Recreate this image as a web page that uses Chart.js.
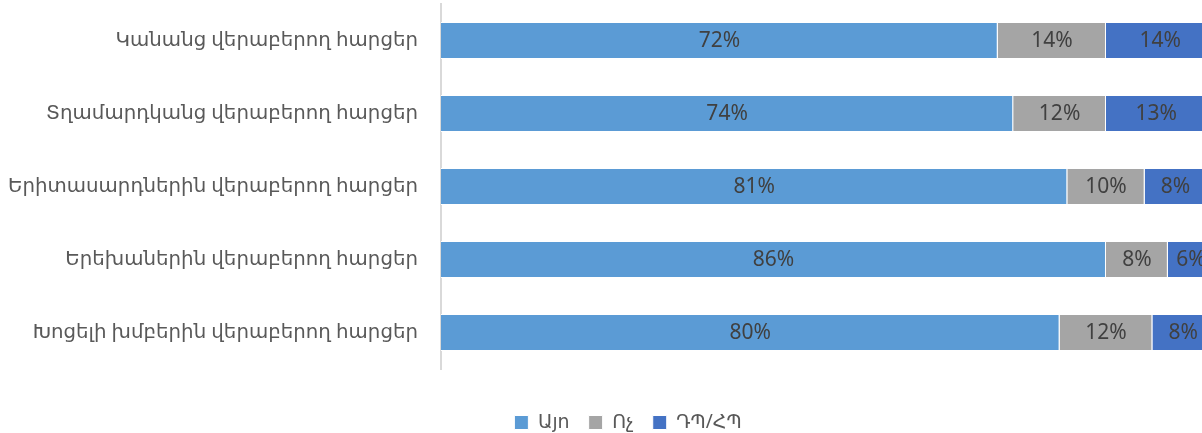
<!DOCTYPE html>
<html>
<head>
<meta charset="utf-8">
<script src="https://cdn.jsdelivr.net/npm/chart.js@4/dist/chart.umd.min.js"></script>
<style>
  html, body { margin: 0; padding: 0; background: #fff; overflow: hidden; }
  #wrap { width: 1202px; height: 433px; overflow: hidden; }
</style>
</head>
<body>
<div id="wrap"><canvas id="chart" width="1256" height="433"></canvas></div>
<script>
// Հարցերի խմբեր
const categories = [
    'Կանանց վերաբերող հարցեր',
    'Տղամարդկանց վերաբերող հարցեր',
    'Երիտասարդներին վերաբերող հարցեր',
    'Երեխաներին վերաբերող հարցեր',
    'Խոցելի խմբերին վերաբերող հարցեր'
];
const seriesNames = ['Այո', 'Ոչ', 'ԴՊ/ՀՊ'];
const yesValues = [72, 74, 81, 86, 80];
const noValues = [14, 12, 10, 8, 12];
const dkValues = [14, 13, 8, 6, 8];

const colors = ['#5B9BD5', '#A5A5A5', '#4472C4'];
const fontFamily = '"Noto Sans", "DejaVu Sans", sans-serif';

// տոկոսները հատվածների մեջտեղում
const barLabels = {
    id: 'barLabels',
    afterDatasetsDraw(chart) {
        const ctx = chart.ctx;
        ctx.save();
        ctx.font = '21px ' + fontFamily;
        ctx.fillStyle = '#404040';
        ctx.textAlign = 'center';
        ctx.textBaseline = 'middle';
        chart.data.datasets.forEach((ds, i) => {
            chart.getDatasetMeta(i).data.forEach((bar, j) => {
                ctx.fillText(ds.data[j] + '%', (bar.x + bar.base) / 2, bar.y + 1);
            });
        });
        ctx.restore();
    }
};

new Chart(document.getElementById('chart'), {
    type: 'bar',
    data: {
        labels: categories,
        datasets: [
            { label: seriesNames[0], data: yesValues, backgroundColor: colors[0] },
            { label: seriesNames[1], data: noValues, backgroundColor: colors[1] },
            { label: seriesNames[2], data: dkValues, backgroundColor: colors[2] }
        ].map(d => Object.assign(d, {
            borderColor: '#ffffff',
            borderWidth: 1,
            categoryPercentage: 1,
            barPercentage: 0.51
        }))
    },
    options: {
        indexAxis: 'y',
        responsive: false,
        animation: false,
        layout: { padding: { top: 4, right: 0, left: 0, bottom: 0 } },
        scales: {
            x: {
                stacked: true,
                min: 0,
                max: 105.4,
                grid: { display: false },
                border: { display: false },
                ticks: { display: false },
                afterFit(scale) { scale.height = 25; }
            },
            y: {
                stacked: true,
                grid: { display: false },
                border: { display: true, color: '#D9D9D9', width: 2 },
                ticks: {
                    color: '#595959',
                    padding: 15,
                    font: { size: 19.8, family: fontFamily }
                },
                afterFit(scale) {
                    scale.width = 441;
                    scale.paddingTop = 0;
                    scale.paddingBottom = 0;
                }
            }
        },
        plugins: {
            legend: {
                position: 'bottom',
                maxHeight: 39,
                labels: {
                    color: '#595959',
                    boxWidth: 14,
                    boxHeight: 14,
                    padding: 19,
                    font: { size: 19, family: fontFamily }
                }
            },
            tooltip: { enabled: false }
        }
    },
    plugins: [barLabels]
});
</script>
</body>
</html>
